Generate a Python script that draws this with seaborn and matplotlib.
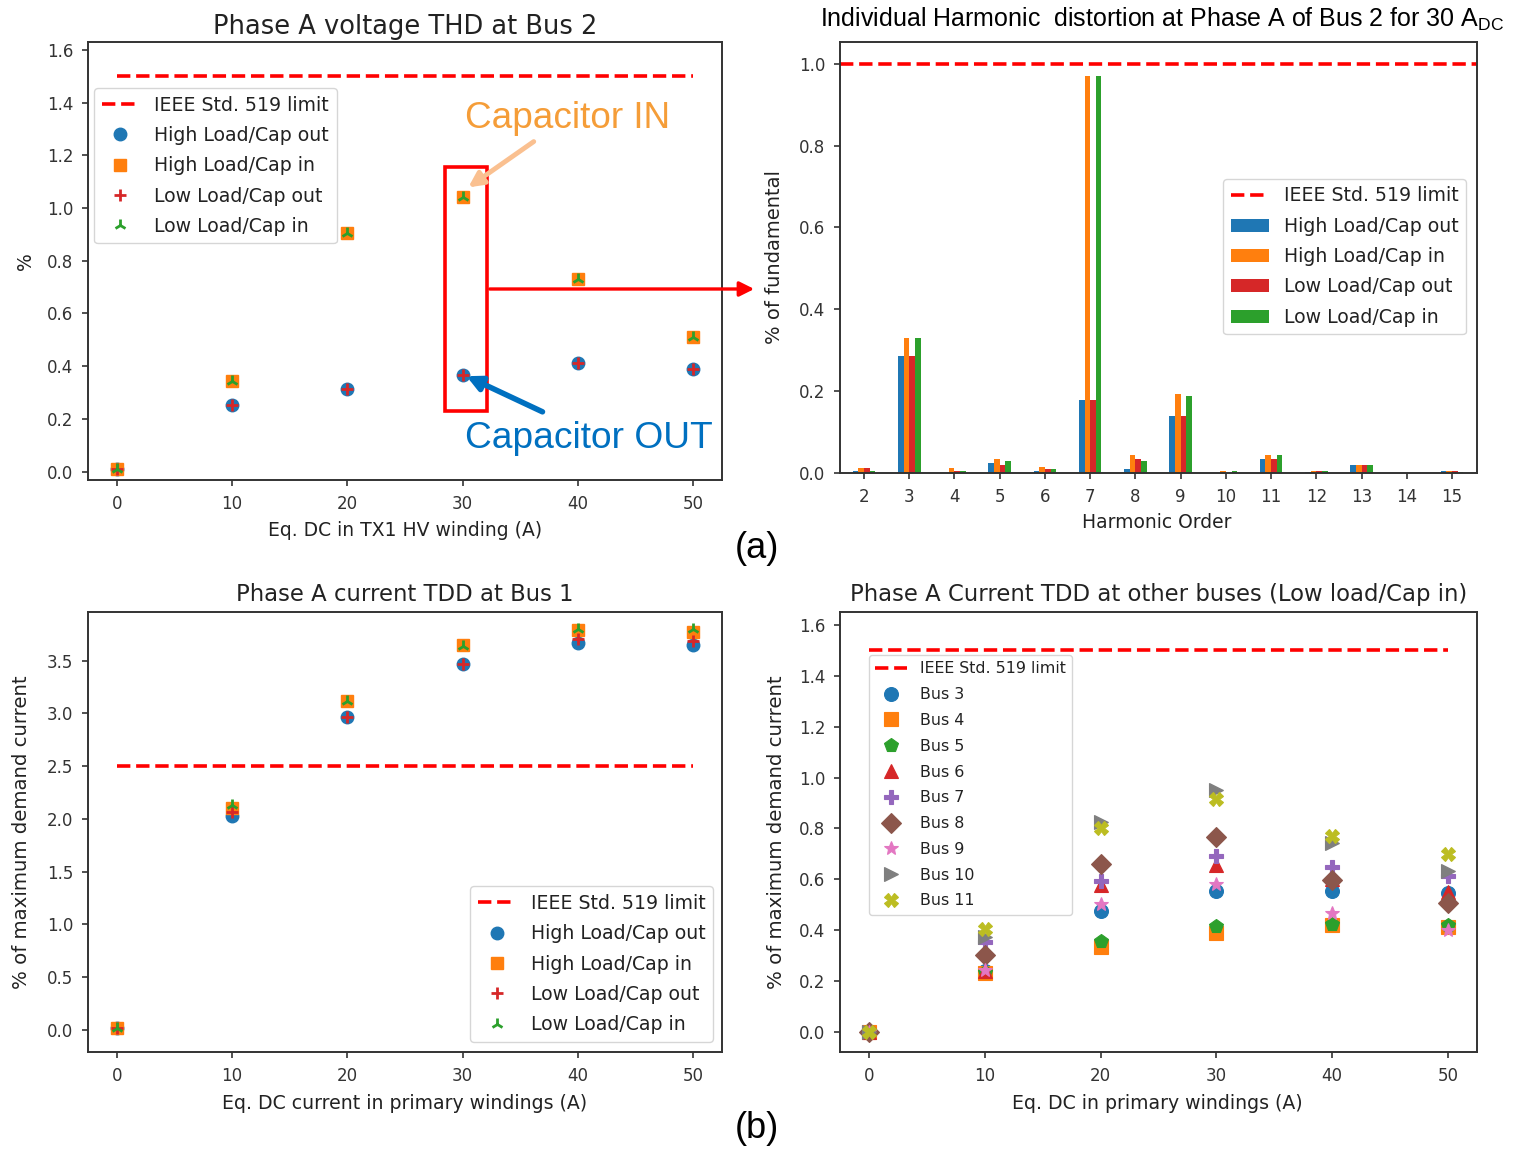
import numpy as np
import pandas as pd
import matplotlib
matplotlib.use("Agg")
import matplotlib.pyplot as plt
import seaborn as sns
from matplotlib.patches import Rectangle, FancyArrowPatch

# ---------------- data ----------------
dc_current = [0, 10, 20, 30, 40, 50]
limit_x = [0, 50]

# (a) left : Phase A voltage THD at Bus 2 (%)
thd_limit = [1.5, 1.5]
thd_high_out = [0.010, 0.254, 0.315, 0.368, 0.413, 0.390]
thd_high_in = [0.010, 0.345, 0.906, 1.043, 0.732, 0.512]
thd_low_out = [0.010, 0.254, 0.315, 0.368, 0.413, 0.390]
thd_low_in = [0.010, 0.345, 0.906, 1.043, 0.732, 0.512]

# (a) right : individual harmonic distortion (% of fundamental)
harmonic_order = ["2", "3", "4", "5", "6", "7", "8", "9", "10", "11", "12", "13", "14", "15"]
ihd_limit = 1.0
ihd_high_out = [0.006, 0.286, 0.000, 0.025, 0.005, 0.179, 0.010, 0.140, 0.000, 0.035, 0.003, 0.020, 0.000, 0.005]
ihd_high_in = [0.011, 0.329, 0.011, 0.035, 0.015, 0.971, 0.045, 0.194, 0.005, 0.045, 0.005, 0.020, 0.000, 0.005]
ihd_low_out = [0.011, 0.286, 0.006, 0.020, 0.010, 0.179, 0.035, 0.140, 0.000, 0.035, 0.005, 0.020, 0.000, 0.005]
ihd_low_in = [0.006, 0.329, 0.006, 0.030, 0.010, 0.971, 0.030, 0.188, 0.005, 0.045, 0.005, 0.020, 0.000, 0.002]

# (b) left : Phase A current TDD at Bus 1 (%)
tdd_limit = [2.5, 2.5]
tdd_high_out = [0.015, 2.031, 2.963, 3.463, 3.668, 3.649]
tdd_high_in = [0.015, 2.104, 3.120, 3.643, 3.790, 3.769]
tdd_low_out = [0.015, 2.063, 2.963, 3.463, 3.706, 3.683]
tdd_low_in = [0.015, 2.130, 3.120, 3.640, 3.800, 3.800]

# (b) right : current TDD at other buses (Low load / Cap in)
bus_limit = [1.5, 1.5]
bus_names = ["Bus 3", "Bus 4", "Bus 5", "Bus 6", "Bus 7", "Bus 8", "Bus 9", "Bus 10", "Bus 11"]
bus3 = [0.0, 0.240, 0.476, 0.555, 0.555, 0.545]
bus4 = [0.0, 0.231, 0.335, 0.388, 0.420, 0.412]
bus5 = [0.0, 0.235, 0.359, 0.417, 0.423, 0.420]
bus6 = [0.0, 0.240, 0.578, 0.656, 0.600, 0.551]
bus7 = [0.0, 0.355, 0.595, 0.692, 0.650, 0.613]
bus8 = [0.0, 0.303, 0.660, 0.765, 0.598, 0.508]
bus9 = [0.0, 0.244, 0.503, 0.582, 0.466, 0.400]
bus10 = [0.0, 0.375, 0.827, 0.949, 0.742, 0.634]
bus11 = [0.0, 0.404, 0.803, 0.915, 0.770, 0.700]

case_labels = ["High Load/Cap out", "High Load/Cap in", "Low Load/Cap out", "Low Load/Cap in"]
limit_label = "IEEE Std. 519 limit"

# ---------------- style ----------------
sns.set_style("ticks", {"axes.edgecolor": "#333333", "xtick.color": "#333333",
                        "ytick.color": "#333333", "text.color": "#222222",
                        "axes.labelcolor": "#222222"})
plt.rcParams.update({
    "font.family": ["DejaVu Sans"],
    "axes.linewidth": 1.4,
    "xtick.major.size": 4.5, "ytick.major.size": 4.5,
    "xtick.major.width": 1.2, "ytick.major.width": 1.2,
    "xtick.major.pad": 6.0, "ytick.major.pad": 6.0,
    "xtick.labelsize": 12, "ytick.labelsize": 12,
    "mathtext.fontset": "custom",
    "mathtext.rm": "Liberation Sans",
    "mathtext.it": "Liberation Sans:italic",
})

tab = sns.color_palette("tab10")
C_BLUE, C_ORANGE, C_GREEN, C_RED = tab[0], tab[1], tab[2], tab[3]
ARIAL = ["Liberation Sans", "DejaVu Sans"]

W, H = 1535, 1149
fig = plt.figure(figsize=(W / 100, H / 100), dpi=100)


def box(l, t, r, b):
    return [l / W, 1 - b / H, (r - l) / W, (b - t) / H]


def P(x, y):
    return (x / W, 1 - y / H)


ax_tl = fig.add_axes(box(88, 42, 722, 480))
ax_tr = fig.add_axes(box(840, 42, 1477, 473))
ax_bl = fig.add_axes(box(88, 612, 722, 1052))
ax_br = fig.add_axes(box(840, 612, 1477, 1052))

LIM_KW = dict(color="red", linestyle="--", linewidth=2.6)


def case_scatter(ax, series, ms=9):
    specs = [("o", C_BLUE, 1.0), ("s", C_ORANGE, 1.0), ("+", C_RED, 2.0), ("2", C_GREEN, 2.0)]
    for vals, lab, (mk, col, mew) in zip(series, case_labels, specs):
        sns.lineplot(x=dc_current, y=vals, ax=ax, marker=mk, linestyle="none",
                     markersize=ms, color=col, markeredgecolor=col, markeredgewidth=mew,
                     errorbar=None, label=lab)


# ---- (a) left ----
sns.lineplot(x=limit_x, y=thd_limit, ax=ax_tl, errorbar=None, label=limit_label, **LIM_KW)
case_scatter(ax_tl, [thd_high_out, thd_high_in, thd_low_out, thd_low_in])
ax_tl.set_xlim(-2.5, 52.5)
ax_tl.set_ylim(-0.032, 1.63)
ax_tl.set_xticks(np.arange(0, 51, 10))
ax_tl.set_yticks(np.arange(0, 1.61, 0.2))
ax_tl.set_title("Phase A voltage THD at Bus 2", fontsize=18.5, pad=6)
ax_tl.set_xlabel("Eq. DC in TX1 HV winding (A)", fontsize=13.5)
ax_tl.set_ylabel("%", fontsize=13.5)
ax_tl.yaxis.set_label_coords(-0.083, 0.5)
ax_tl.xaxis.set_label_coords(0.5, -0.094)
ax_tl.legend(loc="upper left", bbox_to_anchor=(0.0095, 0.895), borderaxespad=0,
             fontsize=13.6, frameon=True, labelspacing=0.6)

# ---- (a) right ----
ax_tr.axhline(ihd_limit, label=limit_label, **LIM_KW)
ihd_df = pd.DataFrame({
    "order": harmonic_order * 4,
    "case": sum([[c] * len(harmonic_order) for c in case_labels], []),
    "value": ihd_high_out + ihd_high_in + ihd_low_out + ihd_low_in,
})
sns.barplot(data=ihd_df, x="order", y="value", hue="case", order=harmonic_order,
            hue_order=case_labels, palette=[C_BLUE, C_ORANGE, C_RED, C_GREEN],
            saturation=1, width=0.5, linewidth=0, edgecolor="none", errorbar=None, ax=ax_tr)
ax_tr.set_xlim(-0.53, 13.55)
ax_tr.set_ylim(0, 1.053)
ax_tr.set_yticks(np.arange(0, 1.01, 0.2))
ax_tr.set_title("Individual Harmonic  distortion at Phase A of Bus 2 for 30 A$_{\\mathrm{DC}}$",
                fontsize=18.0, family=ARIAL, pad=11, color="black", x=0.505)
ax_tr.set_xlabel("Harmonic Order", fontsize=13.5)
ax_tr.set_ylabel("% of fundamental", fontsize=14)
ax_tr.yaxis.set_label_coords(-0.088, 0.5)
ax_tr.xaxis.set_label_coords(0.498, -0.093)
h, l = ax_tr.get_legend_handles_labels()
ax_tr.legend(h, l, loc="center right", bbox_to_anchor=(0.983, 0.502), borderaxespad=0,
             fontsize=13.6, frameon=True, labelspacing=0.6)

# ---- (b) left ----
sns.lineplot(x=limit_x, y=tdd_limit, ax=ax_bl, errorbar=None, label=limit_label, **LIM_KW)
case_scatter(ax_bl, [tdd_high_out, tdd_high_in, tdd_low_out, tdd_low_in])
ax_bl.set_xlim(-2.5, 52.5)
ax_bl.set_ylim(-0.21, 3.96)
ax_bl.set_xticks(np.arange(0, 51, 10))
ax_bl.set_yticks(np.arange(0, 3.51, 0.5))
ax_bl.set_title("Phase A current TDD at Bus 1", fontsize=16.4, pad=8)
ax_bl.set_xlabel("Eq. DC current in primary windings (A)", fontsize=13.6)
ax_bl.set_ylabel("% of maximum demand current", fontsize=14.2)
ax_bl.yaxis.set_label_coords(-0.09, 0.5)
ax_bl.xaxis.set_label_coords(0.5, -0.095)
ax_bl.legend(loc="lower right", bbox_to_anchor=(0.986, 0.023), borderaxespad=0,
             fontsize=13.6, frameon=True, labelspacing=0.6)

# ---- (b) right ----
sns.lineplot(x=limit_x, y=bus_limit, ax=ax_br, errorbar=None, label=limit_label, **LIM_KW)
bus_series = [bus3, bus4, bus5, bus6, bus7, bus8, bus9, bus10, bus11]
bus_markers = ["o", "s", "p", "^", "P", "D", "*", ">", "X"]
bus_colors = [tab[i] for i in range(9)]
for vals, name, mk, col in zip(bus_series, bus_names, bus_markers, bus_colors):
    sns.lineplot(x=dc_current, y=vals, ax=ax_br, marker=mk, linestyle="none",
                 markersize=10, color=col, markeredgecolor=col, markeredgewidth=0.8,
                 errorbar=None, label=name)
ax_br.set_xlim(-2.5, 52.5)
ax_br.set_ylim(-0.078, 1.65)
ax_br.set_xticks(np.arange(0, 51, 10))
ax_br.set_yticks(np.arange(0, 1.61, 0.2))
ax_br.set_title("Phase A Current TDD at other buses (Low load/Cap in)", fontsize=16.4, pad=8)
ax_br.set_xlabel("Eq. DC in primary windings (A)", fontsize=13.6)
ax_br.set_ylabel("% of maximum demand current", fontsize=14.2)
ax_br.yaxis.set_label_coords(-0.085, 0.5)
ax_br.xaxis.set_label_coords(0.498, -0.095)
ax_br.legend(loc="upper left", bbox_to_anchor=(0.0455, 0.902), borderaxespad=0,
             fontsize=11.4, frameon=True, labelspacing=0.68)

# ---------------- annotations ----------------
fig.patches.append(Rectangle(P(445, 411), (487 - 445) / W, (411 - 167) / H,
                             transform=fig.transFigure, fill=False, edgecolor="red",
                             linewidth=2.6, zorder=10))
fig.patches.append(FancyArrowPatch(P(487, 289), P(757, 289), transform=fig.transFigure,
                                   arrowstyle="-|>", mutation_scale=22, color="red",
                                   linewidth=2.4, zorder=10))
fig.patches.append(FancyArrowPatch(P(536, 140), P(466, 189), transform=fig.transFigure,
                                   arrowstyle="-|>", mutation_scale=22, color="#FAC090",
                                   linewidth=3.5, zorder=10))
fig.patches.append(FancyArrowPatch(P(545, 413), P(464, 375), transform=fig.transFigure,
                                   arrowstyle="-|>", mutation_scale=22, color="#0070C0",
                                   linewidth=4, zorder=10))
fig.text(*P(465, 118), "Capacitor IN", fontsize=26.6, family=ARIAL, color="#F59D38",
         ha="left", va="center")
fig.text(*P(465, 438), "Capacitor OUT", fontsize=26.7, family=ARIAL, color="#0070C0",
         ha="left", va="center")
fig.text(*P(757, 548), "(a)", fontsize=26, family=ARIAL, color="black", ha="center", va="center")
fig.text(*P(757, 1128), "(b)", fontsize=26, family=ARIAL, color="black", ha="center", va="center")

fig.savefig("out.png", dpi=100, facecolor="white")
